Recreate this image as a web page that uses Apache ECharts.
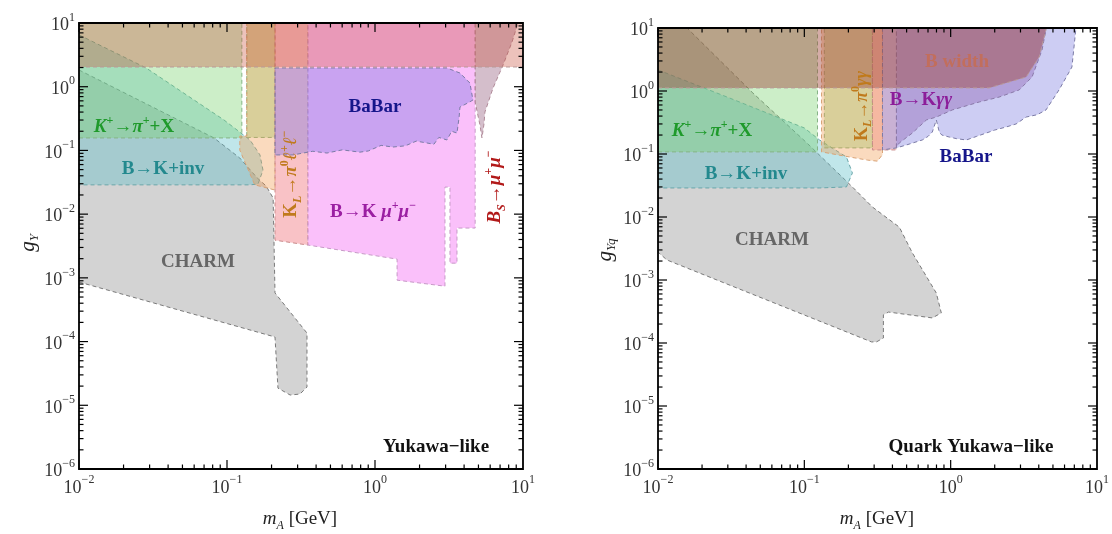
<!DOCTYPE html>
<html>
<head>
<meta charset="utf-8">
<title>Yukawa-like couplings: exclusion limits</title>
<script src="https://cdn.jsdelivr.net/npm/echarts@6/dist/echarts.min.js"></script>
<style>
  html, body { margin: 0; padding: 0; background: #fff; }
  #chart { width: 1112px; height: 534px; }
</style>
</head>
<body>
<div id="chart"></div>
<script>
// ---------- data: region outlines as [m_A (GeV), g] ----------
// left panel: Yukawa-like
var charmL  = [[0.01,1.83],[0.0817,0.157],[0.122,0.076],[0.16,0.037],[0.184,0.0276],[0.205,0.0179],[0.211,5.8e-4],
               [0.347,1.36e-4],[0.347,1.93e-5],[0.311,1.5e-5],[0.267,1.45e-5],[0.221,1.86e-5],[0.211,1.18e-4],[0.01,8.6e-4]];
var bkinvL  = [[0.01,6.5],[0.0284,1.97],[0.0955,0.30],[0.143,0.146],[0.167,0.085],[0.175,0.049],[0.162,0.0297],[0.143,0.0288],[0.01,0.0288]];
var kpiL1   = [[0.01,0.157],[0.126,0.157],[0.126,10],[0.01,10]];
var kpiL2   = [[0.136,0.16],[0.211,0.16],[0.211,10],[0.136,10]];
var orangeL = [[0.136,10],[0.211,10],[0.211,0.0239],[0.154,0.0288],[0.122,0.101],[0.122,0.168],[0.136,0.168]];
var klllL   = [[0.211,10],[0.352,10],[0.352,3.27e-3],[0.211,3.9e-3]];
var bkmumuL = [[0.352,10],[4.75,10],[4.75,6.05e-3],[3.58,6.05e-3],[3.58,1.7e-3],[3.21,1.7e-3],[3.21,0.0266],[2.97,0.0266],
               [2.97,7.4e-4],[1.41,9.2e-4],[1.41,1.97e-3],[0.352,3.27e-3]];
var babarL  = [[0.211,1.97],[3.06,1.97],[3.75,1.64],[4.38,1.14],[4.59,0.618],[4.2,0.55],[3.75,0.48],[3.7,0.33],[3.58,0.187],
               [3.3,0.2],[3.06,0.146],[2.7,0.16],[2.5,0.125],[2.24,0.131],[1.9,0.14],[1.6,0.118],[1.32,0.113],[1.1,0.12],
               [0.9,0.098],[0.79,0.094],[0.6,0.102],[0.474,0.091],[0.38,0.097],[0.279,0.085],[0.211,0.085]];
var bsmumuL = [[4.75,10],[4.75,0.575],[5.12,0.25],[5.28,0.157],[5.45,0.26],[5.53,0.40],[6.27,0.95],[7.33,2.19],[8.43,5.03],[9.25,10]];
var widthL  = [[0.01,2.04],[10,2.04],[10,10],[0.01,10]];

// right panel: quark Yukawa-like
var charmR  = [[0.01,10],[0.0158,10],[0.0445,0.93],[0.104,0.15],[0.213,0.030],[0.292,0.0144],[0.446,6.9e-3],[0.547,2.7e-3],
               [0.798,6.2e-4],[0.863,3.0e-4],[0.749,2.5e-4],[0.376,3.1e-4],[0.347,2.8e-4],[0.347,1.2e-4],[0.311,1.04e-4],
               [0.288,1.04e-4],[0.0115,2.08e-3],[0.01,2.78e-3]];
var bkinvR  = [[0.01,2.16],[0.031,0.77],[0.1,0.259],[0.127,0.167],[0.194,0.0896],[0.213,0.05],[0.194,0.030],[0.127,0.0289],[0.01,0.0289]];
var kpiR1   = [[0.01,0.108],[0.123,0.108],[0.123,10],[0.01,10]];
var kpiR2   = [[0.137,0.125],[0.292,0.125],[0.292,10],[0.137,10]];
var orangeR = [[0.131,10],[0.342,10],[0.342,0.098],[0.316,0.077],[0.27,0.080],[0.204,0.0896],[0.131,0.108]];
var salmonR = [[0.292,10],[0.426,10],[0.426,0.116],[0.292,0.116]];
var babarR  = [[0.342,10],[7.18,10],[6.74,2.4],[5.5,1.04],[4.48,0.5],[3.9,0.42],[3.28,0.386],[2.8,0.3],[2.39,0.268],[2.0,0.24],
               [1.75,0.215],[1.5,0.19],[1.28,0.167],[1.1,0.175],[0.978,0.186],[0.87,0.2],[0.836,0.223],[0.798,0.347],
               [0.749,0.223],[0.7,0.19],[0.64,0.167],[0.498,0.139],[0.426,0.125],[0.342,0.116]];
var bkggR   = [[0.426,10],[4.48,10],[4.48,9.3],[4.21,4.48],[3.6,1.67],[2.94,1.04],[2.14,0.8],[1.57,0.67],[1.025,0.5],
               [0.798,0.386],[0.682,0.347],[0.547,0.215],[0.446,0.15],[0.426,0.129]];
var widthR  = [[0.01,1.12],[1.83,1.12],[3.28,1.67],[4.02,3.46],[4.48,9.3],[4.48,10],[0.01,10]];

// axis ranges and ticks
var xRange = [0.01, 10];
var yRange = [1e-6, 10];
var xDecades = [0.01, 0.1, 1];
var yDecades = [1e-6, 1e-5, 1e-4, 1e-3, 1e-2, 1e-1, 1];
var minorSteps = [2, 3, 4, 5, 6, 7, 8, 9];

var serif = "'Liberation Serif', 'DejaVu Serif', serif";

function region(pts, fill, stroke, xi, yi) {
  return {
    type: 'custom', xAxisIndex: xi, yAxisIndex: yi, silent: true, clip: true,
    data: [pts[0]],
    renderItem: function (params, api) {
      return {
        type: 'polygon',
        shape: { points: pts.map(function (d) { return api.coord(d); }) },
        style: { fill: fill, stroke: stroke, lineWidth: 1, lineDash: [4, 3] }
      };
    }
  };
}

function minorOf(decades) {
  var out = [];
  decades.forEach(function (d) { minorSteps.forEach(function (m) { out.push(d * m); }); });
  return out;
}

// box + inward ticks on all four sides
function frame(xi, yi) {
  return {
    type: 'custom', xAxisIndex: xi, yAxisIndex: yi, silent: true, clip: false, z: 10,
    data: [[xRange[0], yRange[0]]],
    renderItem: function (params, api) {
      var ch = [];
      var bl = api.coord([xRange[0], yRange[0]]);
      var tr = api.coord([xRange[1], yRange[1]]);
      function seg(x1, y1, x2, y2) {
        ch.push({ type: 'line', shape: { x1: x1, y1: y1, x2: x2, y2: y2 }, style: { stroke: '#000', lineWidth: 1.2 } });
      }
      xDecades.forEach(function (v) {
        var p = api.coord([v, yRange[0]])[0];
        seg(p, bl[1], p, bl[1] - 9); seg(p, tr[1], p, tr[1] + 9);
      });
      minorOf(xDecades).forEach(function (v) {
        var p = api.coord([v, yRange[0]])[0];
        seg(p, bl[1], p, bl[1] - 4.5); seg(p, tr[1], p, tr[1] + 4.5);
      });
      yDecades.forEach(function (v) {
        var p = api.coord([xRange[0], v])[1];
        seg(bl[0], p, bl[0] + 9, p); seg(tr[0], p, tr[0] - 9, p);
      });
      minorOf(yDecades).forEach(function (v) {
        var p = api.coord([xRange[0], v])[1];
        seg(bl[0], p, bl[0] + 4.5, p); seg(tr[0], p, tr[0] - 4.5, p);
      });
      ch.push({ type: 'rect', shape: { x: bl[0], y: tr[1], width: tr[0] - bl[0], height: bl[1] - tr[1] },
                style: { fill: null, stroke: '#000', lineWidth: 1.8 } });
      return { type: 'group', children: ch };
    }
  };
}

function decadeLabel(v) {
  var e = Math.round(Math.log10(v));
  return '{b|10}{s|' + (e < 0 ? '\u2212' + (-e) : String(e)) + '}';
}
var tickRich = {
  b: { fontSize: 18, fontFamily: serif, color: '#333', lineHeight: 23, verticalAlign: 'bottom' },
  s: { fontSize: 12, fontFamily: serif, color: '#333', lineHeight: 23, verticalAlign: 'top' }
};

function xAx(g) {
  return { gridIndex: g, type: 'log', logBase: 10, min: xRange[0], max: xRange[1], splitNumber: 3,
           axisLine: { show: false }, axisTick: { show: false }, splitLine: { show: false },
           axisLabel: { margin: 5, formatter: decadeLabel, rich: tickRich } };
}
function yAx(g) {
  return { gridIndex: g, type: 'log', logBase: 10, min: yRange[0], max: yRange[1], splitNumber: 7,
           axisLine: { show: false }, axisTick: { show: false }, splitLine: { show: false },
           axisLabel: { margin: 4, formatter: decadeLabel, rich: tickRich } };
}

function richFor(size, color, bold) {
  var w = bold ? 'bold' : 'normal', lh = size + 10;
  return {
    n: { fontSize: size, fontFamily: serif, fontWeight: w, fill: color, lineHeight: lh, verticalAlign: 'middle' },
    i: { fontSize: size, fontFamily: serif, fontWeight: w, fontStyle: 'italic', fill: color, lineHeight: lh, verticalAlign: 'middle' },
    s: { fontSize: Math.round(size * 0.64), fontFamily: serif, fontWeight: w, fill: color, lineHeight: lh, verticalAlign: 'top', padding: [2, 0, 0, 0] },
    d: { fontSize: Math.round(size * 0.64), fontFamily: serif, fontWeight: w, fontStyle: 'italic', fill: color, lineHeight: lh, verticalAlign: 'bottom', padding: [0, 0, 2, 0] }
  };
}
function txt(x, y, text, color, size, bold, rot) {
  return { type: 'text', x: x, y: y, rotation: rot ? Math.PI / 2 : 0, z: 100, silent: true,
           style: { text: text, rich: richFor(size, color, bold), align: 'center', verticalAlign: 'middle' } };
}

var cGray = 'rgba(150,150,150,0.42)', sGray = '#7a7a7a';
var cCyan = 'rgba(90,190,200,0.38)',  sCyan = '#6aa6aa';
var cGreen = 'rgba(120,210,110,0.38)', sGreen = '#86b486';
var cOrange = 'rgba(240,150,70,0.35)', sOrange = '#d9a377';
var cKl = 'rgba(240,110,120,0.42)', sKl = '#c98c8c';
var cMag = 'rgba(245,130,245,0.5)', sMag = '#c79ac7';
var cBabarL = 'rgba(120,115,225,0.38)', sBabar = '#7b7ba6';
var cBs = 'rgba(160,110,140,0.45)', sBs = '#b08a98';
var cWidthL = 'rgba(200,80,60,0.35)', sWidth = '#b99a98';
var cSalmon = 'rgba(235,120,110,0.35)';
var cBabarR = 'rgba(130,130,225,0.4)';
var cBkgg = 'rgba(120,60,160,0.3)', sBkgg = '#8a7aa8';
var cWidthR = 'rgba(160,70,60,0.45)';

var chart = echarts.init(document.getElementById('chart'), null, { renderer: 'canvas' });
chart.setOption({
  animation: false,
  backgroundColor: '#fff',
  grid: [
    { left: 79, top: 23, width: 444, height: 446 },
    { left: 658, top: 28, width: 440, height: 441 }
  ],
  xAxis: [xAx(0), xAx(1)],
  yAxis: [yAx(0), yAx(1)],
  series: [
    region(charmL, cGray, sGray, 0, 0),
    region(bkinvL, cCyan, sCyan, 0, 0),
    region(kpiL1, cGreen, sGreen, 0, 0),
    region(kpiL2, cGreen, sGreen, 0, 0),
    region(orangeL, cOrange, sOrange, 0, 0),
    region(klllL, cKl, sKl, 0, 0),
    region(bkmumuL, cMag, sMag, 0, 0),
    region(babarL, cBabarL, sBabar, 0, 0),
    region(bsmumuL, cBs, sBs, 0, 0),
    region(widthL, cWidthL, sWidth, 0, 0),
    frame(0, 0),

    region(charmR, cGray, sGray, 1, 1),
    region(bkinvR, cCyan, sCyan, 1, 1),
    region(kpiR1, cGreen, sGreen, 1, 1),
    region(kpiR2, cGreen, sGreen, 1, 1),
    region(orangeR, cOrange, sOrange, 1, 1),
    region(salmonR, cSalmon, sKl, 1, 1),
    region(babarR, cBabarR, sBabar, 1, 1),
    region(bkggR, cBkgg, sBkgg, 1, 1),
    region(widthR, cWidthR, sWidth, 1, 1),
    frame(1, 1)
  ],
  graphic: [
    // left panel labels
    txt(134, 127, '{i|K}{s|+}{n|\u2192}{i|\u03c0}{s|+}{n|+X}', '#1f9a2b', 19, true),
    txt(163, 169, '{n|B\u2192K+inv}', '#23898e', 19, true),
    txt(198, 262, '{n|CHARM}', '#666666', 19, true),
    txt(375, 107, '{n|BaBar}', '#15158a', 19, true),
    txt(373, 212, '{n|B\u2192K }{i|\u03bc}{s|+}{i|\u03bc}{s|\u2212}', '#9b1fa2', 19, true),
    txt(291, 174, '{n|K}{d|L}{n|\u2192}{i|\u03c0}{s|0}{i|\u2113}{s|+}{i|\u2113}{s|\u2212}', '#c07a1c', 19, true, true),
    txt(495, 187, '{i|B}{d|S}{n|\u2192}{i|\u03bc}{s|+}{i|\u03bc}{s|\u2212}', '#b21a1a', 19, true, true),
    txt(436, 447, '{n|Yukawa\u2212like}', '#111111', 19, true),
    // right panel labels
    txt(712, 131, '{i|K}{s|+}{n|\u2192}{i|\u03c0}{s|+}{n|+X}', '#1f9a2b', 19, true),
    txt(746, 174, '{n|B\u2192K+inv}', '#23898e', 19, true),
    txt(772, 240, '{n|CHARM}', '#666666', 19, true),
    txt(862, 106, '{n|K}{d|L}{n|\u2192}{i|\u03c0}{s|0}{i|\u03b3\u03b3}', '#c07a1c', 18, true, true),
    txt(921, 100, '{n|B\u2192K}{i|\u03b3\u03b3}', '#8c1d9a', 19, true),
    txt(957, 62, '{n|B width}', '#c26e5c', 19, true),
    txt(966, 157, '{n|BaBar}', '#15158a', 19, true),
    txt(971, 447, '{n|Quark Yukawa\u2212like}', '#111111', 19, true),
    // axis titles
    txt(28, 243, '{i|g}{d|Y}', '#222222', 21, false, true),
    txt(605, 250, '{i|g}{d|Yq}', '#222222', 21, false, true),
    txt(300, 519, '{i|m}{d|A}{n| [GeV]}', '#222222', 19, false),
    txt(877, 519, '{i|m}{d|A}{n| [GeV]}', '#222222', 19, false)
  ]
});
</script>
</body>
</html>
